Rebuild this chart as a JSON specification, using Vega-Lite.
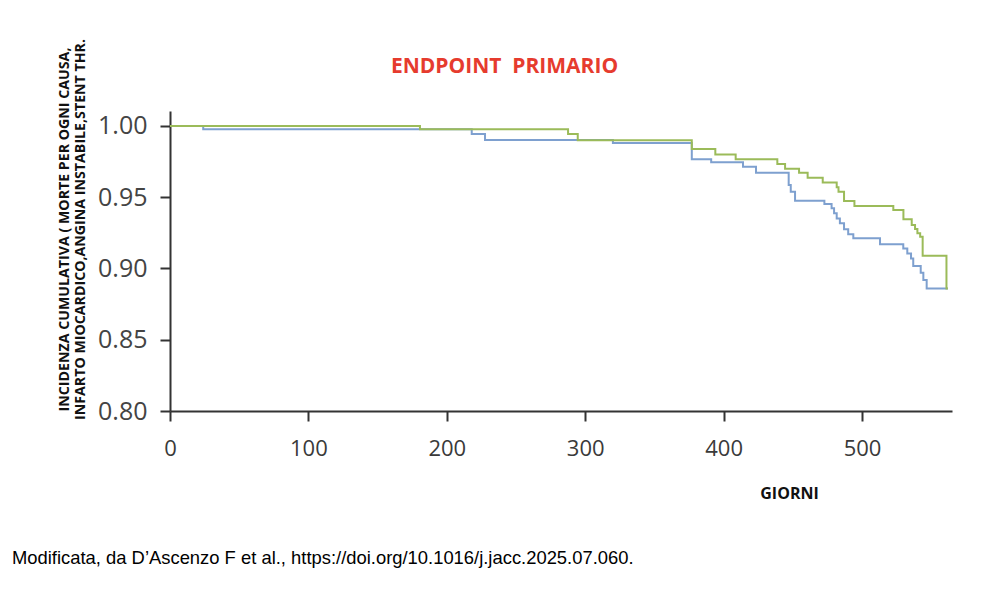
{
  "$schema": "https://vega.github.io/schema/vega-lite/v6.json",
  "autosize": {"type": "none"},
  "width": 782,
  "height": 300,
  "padding": {"left": 170, "top": 111, "right": 48, "bottom": 189},
  "background": "white",
  "config": {"view": {"stroke": null}},
  "title": {
    "text": "Modificata, da D’Ascenzo F et al., https://doi.org/10.1016/j.jacc.2025.07.060.",
    "orient": "bottom",
    "anchor": "start",
    "frame": "group",
    "dx": -158,
    "offset": 48,
    "font": "Liberation Sans Narrow, Liberation Sans, Arial, sans-serif",
    "fontSize": 18.4,
    "fontWeight": "normal",
    "color": "#000000",
    "baseline": "top"
  },
  "datasets": {
    "blue": [
      {"giorni": 0, "incidenza": 1.0},
      {"giorni": 24, "incidenza": 0.9977},
      {"giorni": 218, "incidenza": 0.9944},
      {"giorni": 227.6, "incidenza": 0.9902},
      {"giorni": 320, "incidenza": 0.988},
      {"giorni": 377, "incidenza": 0.9766},
      {"giorni": 391, "incidenza": 0.9745},
      {"giorni": 414, "incidenza": 0.9714},
      {"giorni": 423.4, "incidenza": 0.9672},
      {"giorni": 447, "incidenza": 0.9586},
      {"giorni": 448.5, "incidenza": 0.9539},
      {"giorni": 451.6, "incidenza": 0.9476},
      {"giorni": 472.8, "incidenza": 0.9452},
      {"giorni": 478, "incidenza": 0.9422},
      {"giorni": 479.8, "incidenza": 0.9387},
      {"giorni": 481.7, "incidenza": 0.935},
      {"giorni": 484, "incidenza": 0.9317},
      {"giorni": 487, "incidenza": 0.9275},
      {"giorni": 490, "incidenza": 0.924},
      {"giorni": 493.7, "incidenza": 0.9212},
      {"giorni": 513, "incidenza": 0.917},
      {"giorni": 529.8, "incidenza": 0.9141},
      {"giorni": 532.7, "incidenza": 0.9106},
      {"giorni": 535.4, "incidenza": 0.907},
      {"giorni": 537, "incidenza": 0.9017},
      {"giorni": 542.4, "incidenza": 0.897},
      {"giorni": 544.3, "incidenza": 0.8919},
      {"giorni": 546.7, "incidenza": 0.886},
      {"giorni": 562, "incidenza": 0.886}
    ],
    "green": [
      {"giorni": 0, "incidenza": 1.0},
      {"giorni": 180.6, "incidenza": 0.9977},
      {"giorni": 287.6, "incidenza": 0.9944},
      {"giorni": 294.6, "incidenza": 0.990},
      {"giorni": 377, "incidenza": 0.9838},
      {"giorni": 394, "incidenza": 0.980},
      {"giorni": 408.7, "incidenza": 0.9766},
      {"giorni": 438.8, "incidenza": 0.9733},
      {"giorni": 444.4, "incidenza": 0.970},
      {"giorni": 454.5, "incidenza": 0.9672},
      {"giorni": 460.7, "incidenza": 0.9637},
      {"giorni": 471.6, "incidenza": 0.9604},
      {"giorni": 481.7, "incidenza": 0.957},
      {"giorni": 483, "incidenza": 0.9539},
      {"giorni": 487, "incidenza": 0.9473},
      {"giorni": 494.5, "incidenza": 0.9438},
      {"giorni": 522.6, "incidenza": 0.941},
      {"giorni": 529.9, "incidenza": 0.9345},
      {"giorni": 535.9, "incidenza": 0.9305},
      {"giorni": 538.3, "incidenza": 0.9277},
      {"giorni": 540, "incidenza": 0.9247},
      {"giorni": 542, "incidenza": 0.9223},
      {"giorni": 543.8, "incidenza": 0.909},
      {"giorni": 561, "incidenza": 0.886},
      {"giorni": 562, "incidenza": 0.886}
    ]
  },
  "encoding": {
    "y": {
      "field": "incidenza",
      "type": "quantitative",
      "scale": {"domain": [0.8, 1.0105], "nice": false, "zero": false},
      "axis": {
        "values": [0.8, 0.85, 0.9, 0.95, 1.0],
        "format": ".2f",
        "grid": false,
        "labelFlush": false,
        "labelFont": "Open Sans",
        "labelFontSize": 25,
        "labelColor": "#444444",
        "labelPadding": 13,
        "tickSize": 10,
        "tickWidth": 2,
        "tickColor": "#333333",
        "domainWidth": 2,
        "domainColor": "#333333",
        "title": ["INCIDENZA CUMULATIVA ( MORTE PER OGNI CAUSA,", "INFARTO MIOCARDICO,ANGINA INSTABILE,STENT THR."],
        "titleFont": "Open Sans",
        "titleFontWeight": "bold",
        "titleFontSize": 14.2,
        "titleColor": "#111111",
        "titleAngle": -90,
        "titleX": -106,
        "titleY": 118,
        "titleAlign": "center",
        "titleBaseline": "middle",
        "titleLineHeight": 16
      }
    }
  },
  "resolve": {"axis": {"x": "independent"}},
  "layer": [
    {
      "data": {"name": "blue"},
      "mark": {"type": "line", "interpolate": "step-after", "color": "#7ea0cf", "strokeWidth": 2},
      "encoding": {
        "x": {
          "field": "giorni",
          "type": "quantitative",
          "scale": {"domain": [0, 565], "nice": false},
          "axis": {
            "orient": "bottom",
            "values": [0, 100, 200, 300, 400, 500],
            "grid": false,
            "labelFlush": false,
            "labelFont": "Open Sans",
            "labelFontSize": 22,
            "labelColor": "#3a3a3a",
            "labelPadding": 17,
            "tickSize": 10,
            "tickWidth": 2,
            "tickColor": "#333333",
            "domainWidth": 2,
            "domainColor": "#333333",
            "title": "GIORNI",
            "titleFont": "Open Sans",
            "titleFontWeight": "bold",
            "titleFontSize": 16,
            "titleColor": "#111111",
            "titleX": 619,
            "titleY": 82,
            "titleAlign": "center",
            "titleBaseline": "middle"
          }
        }
      }
    },
    {
      "data": {"name": "green"},
      "mark": {"type": "line", "interpolate": "step-after", "color": "#9bbb59", "strokeWidth": 2},
      "encoding": {
        "x": {
          "field": "giorni",
          "type": "quantitative",
          "axis": {
            "orient": "top",
            "domain": false,
            "ticks": false,
            "labels": false,
            "grid": false,
            "title": "ENDPOINT\u00a0\u00a0PRIMARIO",
            "titleFont": "Open Sans",
            "titleFontWeight": "bold",
            "titleFontSize": 21,
            "titleColor": "#e63b2e",
            "titleX": 334,
            "titleY": -44.5,
            "titleAlign": "center",
            "titleBaseline": "middle"
          }
        }
      }
    }
  ]
}
